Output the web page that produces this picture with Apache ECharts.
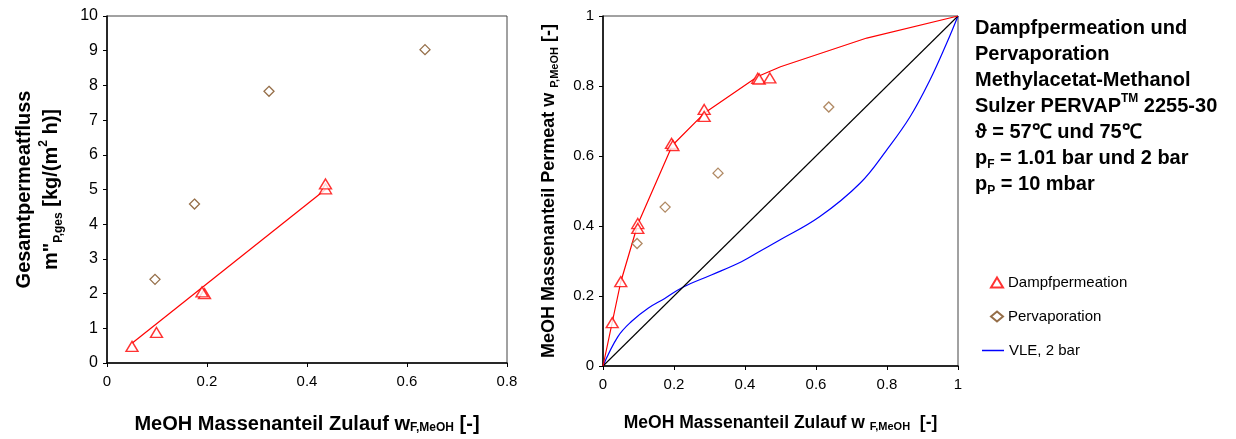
<!DOCTYPE html>
<html>
<head>
<meta charset="utf-8">
<script src="https://cdn.jsdelivr.net/npm/echarts@6/dist/echarts.min.js"></script>
<style>html,body{margin:0;padding:0;background:#fff}#c{width:1236px;height:439px}</style>
</head>
<body>
<div id="c"></div>
<script>
// ---- Left chart: total permeate flux vs. feed MeOH fraction ----
const dpFeedL = [0.05, 0.099, 0.195, 0.19, 0.437, 0.437];
const dpFlux  = [0.48, 0.88, 2.0, 2.05, 5.02, 5.16];
const dpFitX  = [0.05, 0.437];
const dpFitY  = [0.57, 5.0];
const pvFeed  = [0.096, 0.175, 0.324, 0.636];
const pvFlux  = [2.41, 4.58, 7.83, 9.03];
const leftXTicks = [0, 0.2, 0.4, 0.6, 0.8];
const leftYTicks = [0, 1, 2, 3, 4, 5, 6, 7, 8, 9, 10];

// ---- Right chart: permeate MeOH fraction vs. feed MeOH fraction ----
const dpFeedR = [0.026, 0.05, 0.098, 0.098, 0.193, 0.197, 0.285, 0.285, 0.436, 0.44, 0.47];
const dpPerm  = [0.124, 0.241, 0.407, 0.393, 0.636, 0.63, 0.733, 0.713, 0.822, 0.82, 0.823];
const pvPerm  = [0.35, 0.454, 0.551, 0.74];
const dpCurveX = [0, 0.05, 0.098, 0.195, 0.285, 0.436, 0.5, 0.743, 1];
const dpCurveY = [0, 0.24, 0.405, 0.63, 0.722, 0.827, 0.855, 0.937, 1];
const vleX = [0, 0.042, 0.08, 0.127, 0.174, 0.225, 0.305, 0.39, 0.442, 0.493, 0.611, 0.724, 0.799, 0.865, 0.921, 0.968, 1];
const vleY = [0, 0.084, 0.127, 0.165, 0.193, 0.225, 0.26, 0.298, 0.328, 0.357, 0.427, 0.522, 0.617, 0.712, 0.817, 0.922, 1];
const diagX = [0, 1];
const diagY = [0, 1];
const rightTicks = [0, 0.2, 0.4, 0.6, 0.8, 1];

const infoLines = [
  'Dampfpermeation und',
  'Pervaporation',
  'Methylacetat-Methanol',
  'Sulzer PERVAP{sup|TM} 2255-30',
  'ϑ = 57℃ und 75℃',
  'p{sub|F} = 1.01 bar und 2 bar',
  'p{sub|P} = 10 mbar'
];

const FONT = '"Liberation Sans", Arial, Helvetica, sans-serif';
const zip = (xs, ys) => xs.map((x, i) => [x, ys[i]]);

function richFor(size) {
  return {
    sub: { fontSize: Math.round(size * 0.62), fontWeight: 'bold', fontFamily: FONT, verticalAlign: 'bottom', padding: [Math.round(size * 0.35), 0, 0, 0] },
    sup: { fontSize: Math.round(size * 0.58), fontWeight: 'bold', fontFamily: FONT, verticalAlign: 'top', padding: [0, 0, Math.round(size * 0.35), 0] }
  };
}

function xAxisCfg(gridIndex, max, name, gap, size) {
  return {
    gridIndex, type: 'value', min: 0, max, interval: 0.2,
    name, nameLocation: 'middle', nameGap: gap,
    nameTextStyle: { fontSize: size, fontWeight: 'bold', color: '#000', fontFamily: FONT, rich: richFor(size) },
    axisLine: { show: true, onZero: false, lineStyle: { color: '#000', width: 1.5 } },
    axisTick: { show: true, inside: false, length: 4, lineStyle: { color: '#000' } },
    axisLabel: { fontSize: 15, color: '#000', margin: 11, fontFamily: FONT,
                 formatter: v => String(Math.round(v * 10) / 10) },
    splitLine: { show: false }
  };
}
function yAxisCfg(gridIndex, max, interval, name, gap, size, lh, labelSize) {
  return {
    gridIndex, type: 'value', min: 0, max, interval,
    name, nameLocation: 'middle', nameGap: gap, nameRotate: 90,
    nameTextStyle: { fontSize: size, fontWeight: 'bold', color: '#000', fontFamily: FONT, lineHeight: lh, rich: richFor(size) },
    axisLine: { show: true, onZero: false, lineStyle: { color: '#000', width: 1.5 } },
    axisTick: { show: true, inside: false, length: 4, lineStyle: { color: '#000' } },
    axisLabel: { fontSize: labelSize, color: '#000', margin: 9, fontFamily: FONT,
                 formatter: v => String(Math.round(v * 10) / 10) },
    splitLine: { show: false }
  };
}

const triStyle = { color: '#fff', borderColor: '#ff0000', borderWidth: 1.4 };

const option = {
  animation: false,
  backgroundColor: '#fff',
  textStyle: { fontFamily: FONT },
  title: {
    left: 975, top: 15, padding: 0,
    text: infoLines.join('\n'),
    textStyle: { fontSize: 20, fontWeight: 'bold', color: '#000', fontFamily: FONT, lineHeight: 26, rich: richFor(20) }
  },
  legend: [
    {
      orient: 'vertical', left: 985, top: 270,
      itemWidth: 12, itemHeight: 10, itemGap: 19,
      textStyle: { fontSize: 15, color: '#000', fontFamily: FONT },
      data: [
        { name: 'Dampfpermeation', icon: 'triangle' },
        { name: 'Pervaporation', icon: 'diamond' }
      ]
    },
    {
      orient: 'vertical', left: 977, top: 338,
      itemWidth: 22, itemHeight: 1.5, itemGap: 10,
      textStyle: { fontSize: 15, color: '#000', fontFamily: FONT },
      data: [{ name: 'VLE, 2 bar', icon: 'rect' }]
    }
  ],
  grid: [
    { left: 107, top: 16, width: 400, height: 349, show: true, borderColor: '#444', borderWidth: 1, backgroundColor: 'transparent' },
    { left: 603, top: 16, width: 355, height: 350, show: true, borderColor: '#444', borderWidth: 1, backgroundColor: 'transparent' }
  ],
  xAxis: [
    xAxisCfg(0, 0.8, 'MeOH Massenanteil Zulauf w{sub|F,MeOH} [-]', 51, 20),
    xAxisCfg(1, 1, 'MeOH Massenanteil Zulauf w {sub|F,MeOH}  [-]', 48, 17.5)
  ],
  yAxis: [
    yAxisCfg(0, 10, 1, 'Gesamtpermeatfluss\nm"{sub|P,ges} [kg/(m{sup|2} h)]', 42, 20, 27, 16),
    yAxisCfg(1, 1, 0.2, 'MeOH Massenanteil Permeat w {sub|P,MeOH} [-]', 43, 18, 22, 15)
  ],
  series: [
    { name: 'DP fit', type: 'line', xAxisIndex: 0, yAxisIndex: 0, data: zip(dpFitX, dpFitY),
      symbol: 'none', lineStyle: { color: '#ff0000', width: 1.2 }, z: 2 },
    { name: 'Dampfpermeation', type: 'scatter', xAxisIndex: 0, yAxisIndex: 0, data: zip(dpFeedL, dpFlux),
      symbol: 'triangle', symbolSize: [12, 10], itemStyle: triStyle, z: 3 },
    { name: 'Pervaporation', type: 'scatter', xAxisIndex: 0, yAxisIndex: 0, data: zip(pvFeed, pvFlux),
      symbol: 'diamond', symbolSize: [10, 10], itemStyle: { color: '#fff', borderColor: '#7a4a1a', borderWidth: 1.3 }, z: 3 },

    { name: 'VLE, 2 bar', type: 'line', xAxisIndex: 1, yAxisIndex: 1, data: zip(vleX, vleY),
      symbol: 'none', smooth: 0.4, lineStyle: { color: '#0000ff', width: 1.2 }, itemStyle: { color: '#0000ff' }, z: 2 },
    { name: 'diag', type: 'line', xAxisIndex: 1, yAxisIndex: 1, data: zip(diagX, diagY),
      symbol: 'none', lineStyle: { color: '#000', width: 1.1 }, z: 2 },
    { name: 'DP curve', type: 'line', xAxisIndex: 1, yAxisIndex: 1, data: zip(dpCurveX, dpCurveY),
      symbol: 'none', lineStyle: { color: '#ff0000', width: 1.2 }, z: 2 },
    { name: 'Dampfpermeation', type: 'scatter', xAxisIndex: 1, yAxisIndex: 1, data: zip(dpFeedR, dpPerm),
      symbol: 'triangle', symbolSize: [12, 10], itemStyle: triStyle, z: 3 },
    { name: 'Pervaporation', type: 'scatter', xAxisIndex: 1, yAxisIndex: 1, data: zip(pvFeed, pvPerm),
      symbol: 'diamond', symbolSize: [10, 10], itemStyle: { color: '#fff', borderColor: '#9c6b3c', borderWidth: 1.3 }, z: 3 }
  ]
};

const chart = echarts.init(document.getElementById('c'), null, { renderer: 'canvas', width: 1236, height: 439 });
chart.setOption(option);
</script>
</body>
</html>
